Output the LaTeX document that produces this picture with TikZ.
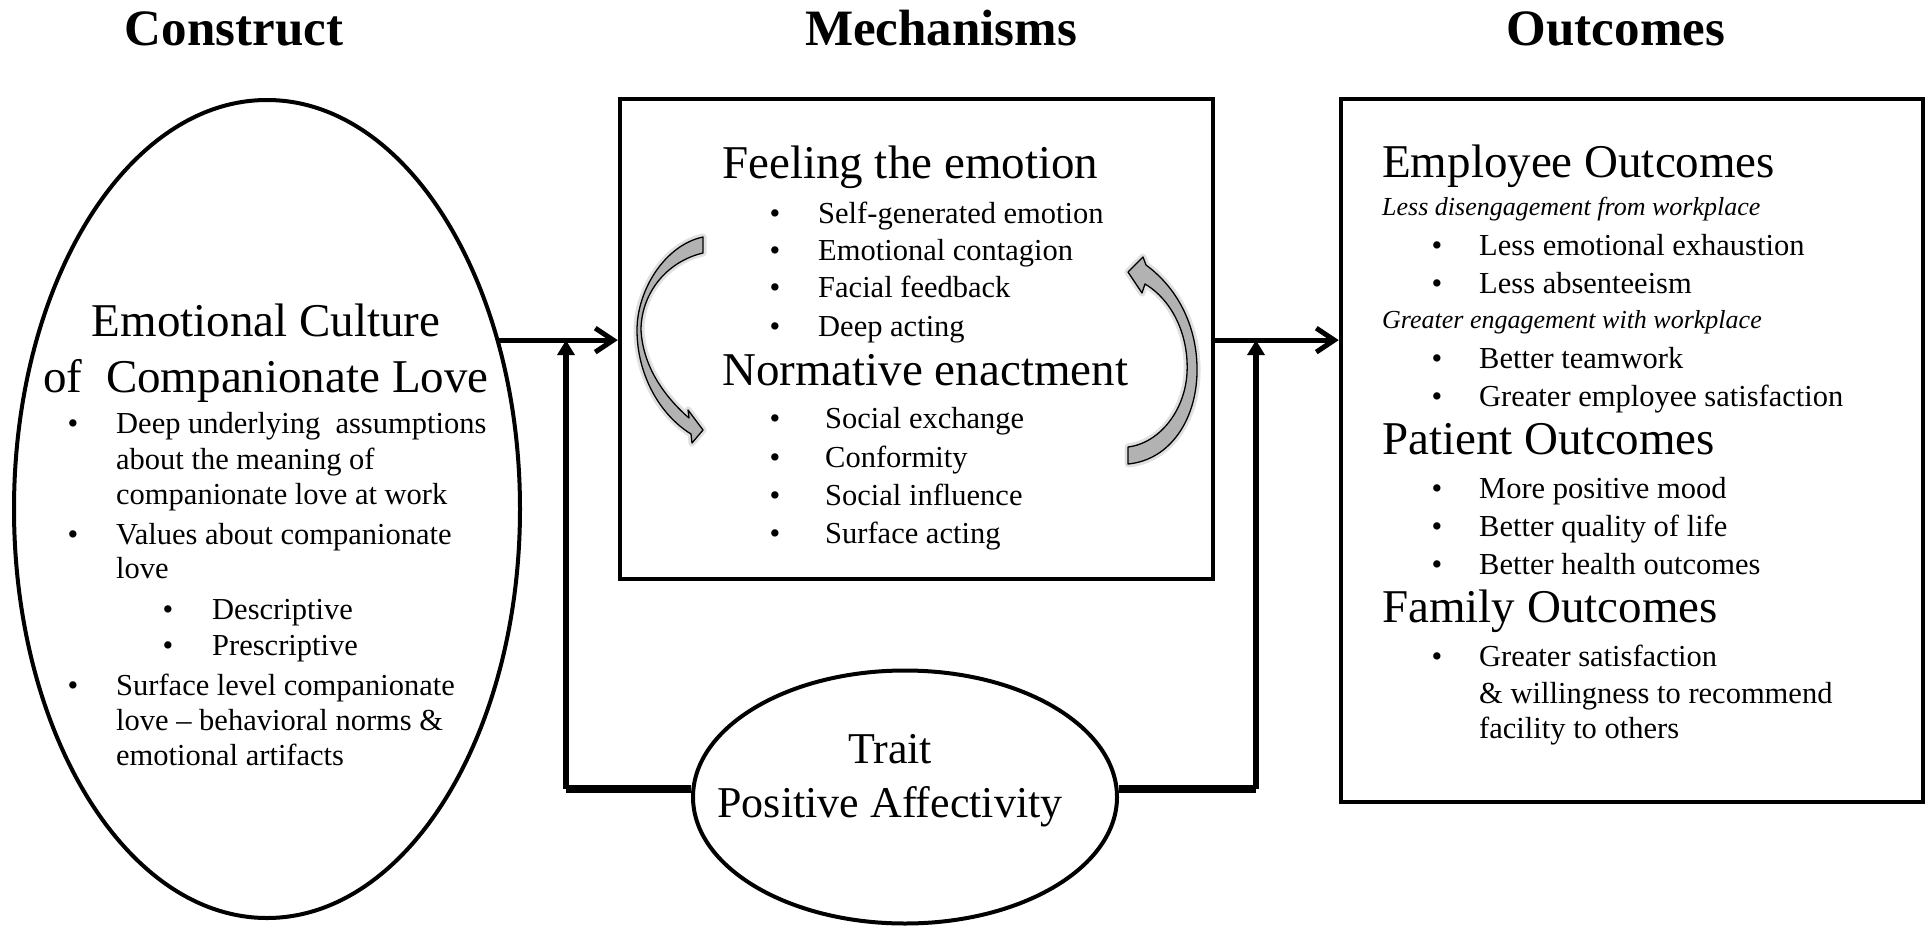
\documentclass[tikz,border=0pt]{standalone}
\usepackage{fontspec}
\setmainfont{Liberation Serif}
\usetikzlibrary{arrows.meta, shapes.geometric}

\tikzset{
  coltitle/.style={font=\fontsize{51}{56}\selectfont\bfseries, anchor=base, inner sep=0pt},
  head/.style={font=\fontsize{47}{52}\selectfont, anchor=base west, inner sep=0pt},
  item/.style={font=\fontsize{30.5}{36}\selectfont, anchor=base west, inner sep=0pt},
  bul/.style={font=\fontsize{30.5}{36}\selectfont, anchor=base, inner sep=0pt},
  subhead/.style={font=\fontsize{26}{30}\selectfont\itshape, anchor=base west, inner sep=0pt},
  panel/.style={draw, line width=4.5pt, inner sep=0pt},
  blob/.style={draw, ellipse, line width=4pt, inner sep=0pt},
  flow/.style={line width=5pt, -{Straight Barb[length=18pt,width=24pt]}},
  feed/.style={line width=5.5pt, -{Triangle[length=15pt,width=17pt]}},
  bar/.style={line width=7.5pt},
  turn/.style={preaction={draw=black!12, line width=7pt, line join=round},
    draw=black, fill=black!30, line width=1.3pt, line join=round},
}

\begin{document}
\begin{tikzpicture}[x=1pt, y=-1pt]
\useasboundingbox (0,0) rectangle (1932,926);

% column titles
\node[coltitle] (t1) at (234,45) {Construct};
\node[coltitle] (t2) at (941,45) {Mechanisms};
\node[coltitle] (t3) at (1616,45) {Outcomes};

% shapes
\node[blob, minimum width=506pt, minimum height=818pt] (culture) at (267,509) {};
\node[panel, minimum width=593pt, minimum height=480pt] (mech) at (916.5,339) {};
\node[panel, minimum width=582pt, minimum height=703pt] (outc) at (1632,450.5) {};
\node[blob, minimum width=424pt, minimum height=253pt] (trait) at (905,797) {};

% construct
\node[head, anchor=base] (ecul) at (266,336) {Emotional Culture};
\node[head, anchor=base] (ecom) at (266,392) {of~ Companionate Love};
\foreach \y [count=\i] in {433,544,695}
  \node[bul] (cb\i) at (73,\y) {\textbullet};
\foreach \y [count=\i] in {619,655}
  \node[bul] (csb\i) at (168,\y) {\textbullet};
\foreach \x/\y/\t [count=\i] in {116/433/Deep underlying~ assumptions,
    116/469/about the meaning of, 116/504/companionate love at work,
    116/544/Values about companionate, 116/578/love,
    212/619/Descriptive, 212/655/Prescriptive,
    116/695/Surface level companionate, 116/730/love -- behavioral norms \&,
    116/765/emotional artifacts}
  \node[item] (cl\i) at (\x,\y) {\t};

% mechanisms
\node[head] (feel) at (722,178) {Feeling the emotion};
\node[head] (norm) at (722,385) {Normative enactment};
\foreach \y [count=\i] in {223,260,297,336,428,467,505,543}
  \node[bul] (mb\i) at (775,\y) {\textbullet};
\foreach \x/\y/\t [count=\i] in {818/223/Self-generated emotion,
    818/260/Emotional contagion, 818/297/Facial feedback, 818/336/Deep acting,
    825/428/Social exchange, 825/467/Conformity, 825/505/Social influence,
    825/543/Surface acting}
  \node[item] (ml\i) at (\x,\y) {\t};

% curved arrows inside
\path[turn] (703,237) .. controls (665,245) and (637,290) .. (637,330)
  .. controls (637,375) and (660,415) .. (691,434) -- (692,443) -- (703,430)
  -- (688,410) -- (689,418) .. controls (666,398) and (643,368) .. (641,330)
  .. controls (641,295) and (665,262) .. (703,253) -- cycle;
\path[turn] (1146,265) .. controls (1180,290) and (1198,330) .. (1197,373)
  .. controls (1196,420) and (1170,460) .. (1128,464) -- (1128,447)
  .. controls (1160,443) and (1185,410) .. (1187,373)
  .. controls (1189,335) and (1172,300) .. (1145,284) -- (1142,293)
  -- (1128,272) -- (1143,257) -- cycle;

% outcomes
\node[head] (emp) at (1382,177) {Employee Outcomes};
\node[subhead] (diseng) at (1382,215) {Less disengagement from workplace};
\node[subhead] (engage) at (1382,328) {Greater engagement with workplace};
\node[head] (pat) at (1382,454) {Patient Outcomes};
\node[head] (fam) at (1382,622) {Family Outcomes};
\foreach \y [count=\i] in {255,293,368,406,498,536,574,666}
  \node[bul] (ob\i) at (1437,\y) {\textbullet};
\foreach \y/\t [count=\i] in {255/Less emotional exhaustion,
    293/Less absenteeism, 368/Better teamwork,
    406/Greater employee satisfaction, 498/More positive mood,
    536/Better quality of life, 574/Better health outcomes,
    666/Greater satisfaction, 703/\& willingness to recommend,
    738/facility to others}
  \node[item] (ol\i) at (1479,\y) {\t};

% trait
\node[font=\fontsize{44}{50}\selectfont, anchor=base] (tr1) at (890,763) {Trait};
\node[font=\fontsize{44}{50}\selectfont, anchor=base] (tr2) at (890,817) {Positive Affectivity};

% connectors
\coordinate (lvl) at (culture.36);
\coordinate (feedl) at (566,789);
\coordinate (feedr) at (1256,789);
\draw[flow] (lvl) -- (lvl -| mech.west);
\draw[flow] (mech.east |- lvl) -- (outc.west |- lvl);
\draw[bar] (trait.west |- feedl) -- (feedl);
\draw[bar] (trait.east |- feedr) -- (feedr);
\draw[feed] (feedl) -- (feedl |- lvl);
\draw[feed] (feedr) -- (feedr |- lvl);
\end{tikzpicture}
\end{document}
